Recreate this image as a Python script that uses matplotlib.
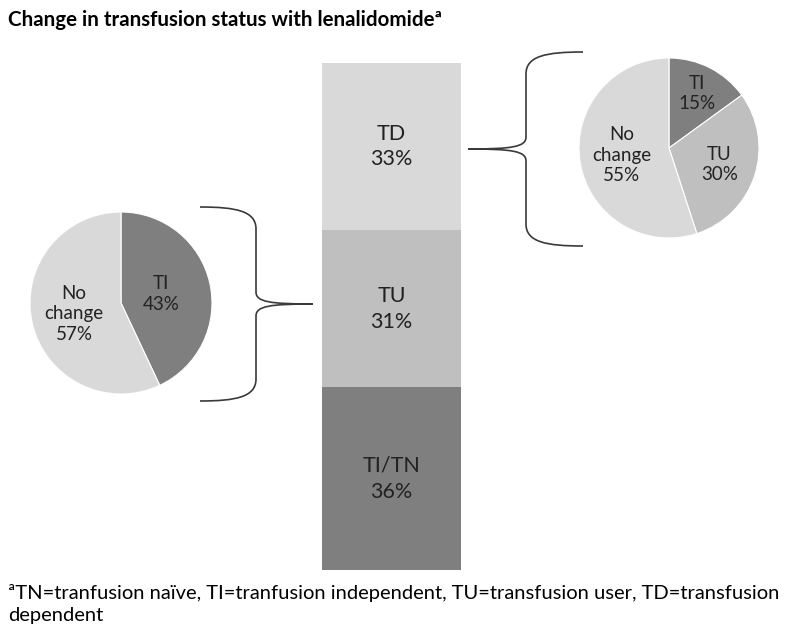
import matplotlib
matplotlib.use("Agg")
import matplotlib.pyplot as plt
from matplotlib.path import Path
from matplotlib.patches import PathPatch
import numpy as np

plt.rcParams['font.family'] = ['Lato', 'DejaVu Sans']

# ---- data ----
bar_labels = ["TI/TN", "TU", "TD"]
bar_values = [36, 31, 33]
bar_colors = ["#7f7f7f", "#bfbfbf", "#d9d9d9"]

left_pie_labels = ["TI", "No\nchange"]
left_pie_values = [43, 57]
left_pie_colors = ["#7f7f7f", "#d9d9d9"]

right_pie_labels = ["TI", "TU", "No\nchange"]
right_pie_values = [15, 30, 55]
right_pie_colors = ["#7f7f7f", "#bfbfbf", "#d9d9d9"]

title = "Change in transfusion status with lenalidomide\u00aa"
footnote = ("\u00aaTN=tranfusion na\u00efve, TI=tranfusion independent, TU=transfusion user, TD=transfusion\n"
            "dependent")

W, H = 800, 634
fig = plt.figure(figsize=(8, 6.34), dpi=100)
txtc = "#222222"

def fax(x0, y0, w, h):
    # pixel box (top-left origin) -> figure axes
    return fig.add_axes([x0 / W, 1 - (y0 + h) / H, w / W, h / H])

# ---- stacked bar ----
bx = fax(322, 63, 139, 507)
bottom = 0
for lab, v, c in zip(bar_labels, bar_values, bar_colors):
    bx.bar(0, v, bottom=bottom, width=1, color=c, edgecolor="none")
    bx.text(0, bottom + v / 2, f"{lab}\n{v}%", ha="center", va="center",
            fontsize=15.5, color=txtc, linespacing=1.35)
    bottom += v
bx.set_xlim(-0.5, 0.5)
bx.set_ylim(0, sum(bar_values))
bx.axis("off")

# ---- pies ----
def draw_pie(cx, cy, r, values, labels, colors, dists):
    ax = fax(cx - r, cy - r, 2 * r, 2 * r)
    wedges, _ = ax.pie(values, colors=colors, startangle=90, counterclock=False,
                       wedgeprops=dict(edgecolor="white", linewidth=0.8), radius=1)
    tot = sum(values)
    cum = 0
    for v, lab, d in zip(values, labels, dists):
        mid = 90 - 360 * (cum + v / 2) / tot
        cum += v
        a = np.deg2rad(mid)
        ax.text(d * np.cos(a), d * np.sin(a), f"{lab}\n{v}%", ha="center", va="center",
                fontsize=13.5, color=txtc, linespacing=1.25)
    ax.set_xlim(-1, 1)
    ax.set_ylim(-1, 1)
    ax.set_aspect("equal")
    ax.axis("off")

draw_pie(121, 303, 91, left_pie_values, left_pie_labels, left_pie_colors, [0.45, 0.53])
draw_pie(669, 148, 90, right_pie_values, right_pie_labels, right_pie_colors, [0.68, 0.59, 0.53])

# ---- overlay for braces and text ----
ov = fig.add_axes([0, 0, 1, 1])
ov.set_xlim(0, W)
ov.set_ylim(H, 0)
ov.axis("off")

def brace(xend, xv, xtip, ytop, ymid, ybot):
    s = np.sign(xv - xend)
    r = 22
    verts = [
        (xend, ytop),
        (xv - s * 20, ytop), (xv, ytop + 4), (xv, ytop + r),
        (xv, ymid - 12),
        (xv, ymid - 2), (xv + s * 14, ymid), (xtip, ymid),
        (xv + s * 14, ymid), (xv, ymid + 2), (xv, ymid + 12),
        (xv, ybot - r),
        (xv, ybot - 4), (xv - s * 20, ybot), (xend, ybot),
    ]
    codes = [Path.MOVETO,
             Path.CURVE4, Path.CURVE4, Path.CURVE4,
             Path.LINETO,
             Path.CURVE4, Path.CURVE4, Path.CURVE4,
             Path.CURVE4, Path.CURVE4, Path.CURVE4,
             Path.LINETO,
             Path.CURVE4, Path.CURVE4, Path.CURVE4]
    ov.add_patch(PathPatch(Path(verts, codes), fill=False, edgecolor="#3a3a3a", lw=1.2))

brace(200, 256, 313, 207, 304, 401)
brace(583, 526, 468, 52, 149, 246)

ov.text(8, 20, title, fontsize=14.8, fontweight="bold", color="black", ha="left", va="center")
ov.text(8, 604, footnote, fontsize=14.5, color="black", ha="left", va="center", linespacing=1.3)

fig.savefig("out.png", dpi=100)
